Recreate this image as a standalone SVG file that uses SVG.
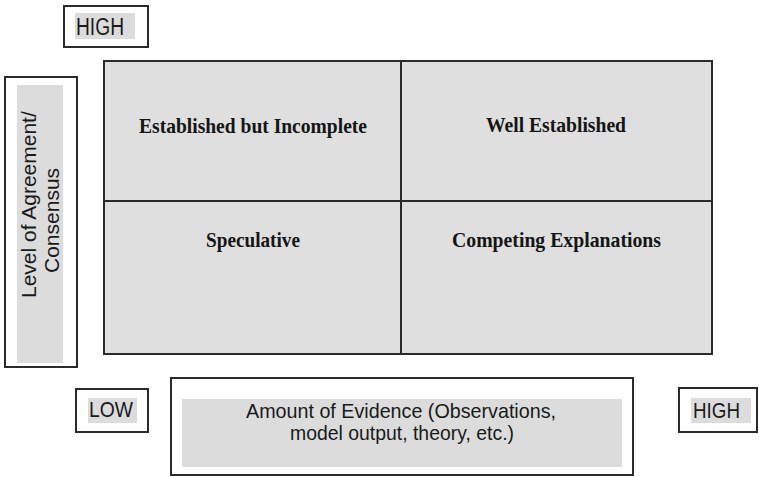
<svg xmlns="http://www.w3.org/2000/svg" width="759" height="477" viewBox="0 0 759 477">
<style>
.box{fill:#ffffff;stroke:#2a2a2a;stroke-width:2}
.hl{fill:#dcdcdc;stroke:none}
.cell{fill:#dfdfdf;stroke:#2a2a2a;stroke-width:2}
.sans{font-family:"Liberation Sans",Arial,sans-serif;fill:#1a1a1a}
.serif{font-family:"Liberation Serif","Times New Roman",serif;font-weight:bold;fill:#151515;font-size:22px}
</style>
<rect width="759" height="477" fill="#ffffff"/>
<g id="high-top">
<rect class="box" x="64" y="6" width="84" height="41"/>
<rect class="hl" x="75" y="13" width="60" height="26"/>
<text class="sans" x="76" y="35" font-size="23" textLength="48" lengthAdjust="spacingAndGlyphs">HIGH</text>
</g>
<g id="y-axis">
<rect class="box" x="5" y="77" width="72" height="290"/>
<rect class="hl" x="17" y="85" width="46" height="278"/>
<text class="sans" font-size="21" transform="translate(36,298) rotate(-90)">Level of Agreement/</text>
<text class="sans" font-size="21" transform="translate(59,273) rotate(-90)">Consensus</text>
</g>
<g id="grid">
<rect class="cell" x="104" y="61" width="608" height="293"/>
<line x1="401" y1="61" x2="401" y2="354" stroke="#2a2a2a" stroke-width="2"/>
<line x1="104" y1="201" x2="712" y2="201" stroke="#2a2a2a" stroke-width="2"/>
</g>
<g id="cell-established-incomplete">
<text class="serif" x="139" y="133" textLength="228" lengthAdjust="spacingAndGlyphs">Established but Incomplete</text>
</g>
<g id="cell-well-established">
<text class="serif" x="486" y="132" textLength="140" lengthAdjust="spacingAndGlyphs">Well Established</text>
</g>
<g id="cell-speculative">
<text class="serif" x="206" y="247" textLength="94" lengthAdjust="spacingAndGlyphs">Speculative</text>
</g>
<g id="cell-competing">
<text class="serif" x="452" y="247" textLength="209" lengthAdjust="spacingAndGlyphs">Competing Explanations</text>
</g>
<g id="low">
<rect class="box" x="76" y="389" width="72" height="43"/>
<rect class="hl" x="88" y="398" width="49" height="25"/>
<text class="sans" x="89" y="417" font-size="22" textLength="44" lengthAdjust="spacingAndGlyphs">LOW</text>
</g>
<g id="x-axis">
<rect class="box" x="171" y="378" width="462" height="97"/>
<rect class="hl" x="182" y="399" width="440" height="68"/>
<text class="sans" x="246" y="418" font-size="21" textLength="310" lengthAdjust="spacingAndGlyphs">Amount of Evidence (Observations,</text>
<text class="sans" x="290" y="440" font-size="21" textLength="224" lengthAdjust="spacingAndGlyphs">model output, theory, etc.)</text>
</g>
<g id="high-right">
<rect class="box" x="679" y="388" width="78" height="44"/>
<rect class="hl" x="691" y="398" width="60" height="25"/>
<text class="sans" x="693" y="418" font-size="22" textLength="47" lengthAdjust="spacingAndGlyphs">HIGH</text>
</g>
</svg>
